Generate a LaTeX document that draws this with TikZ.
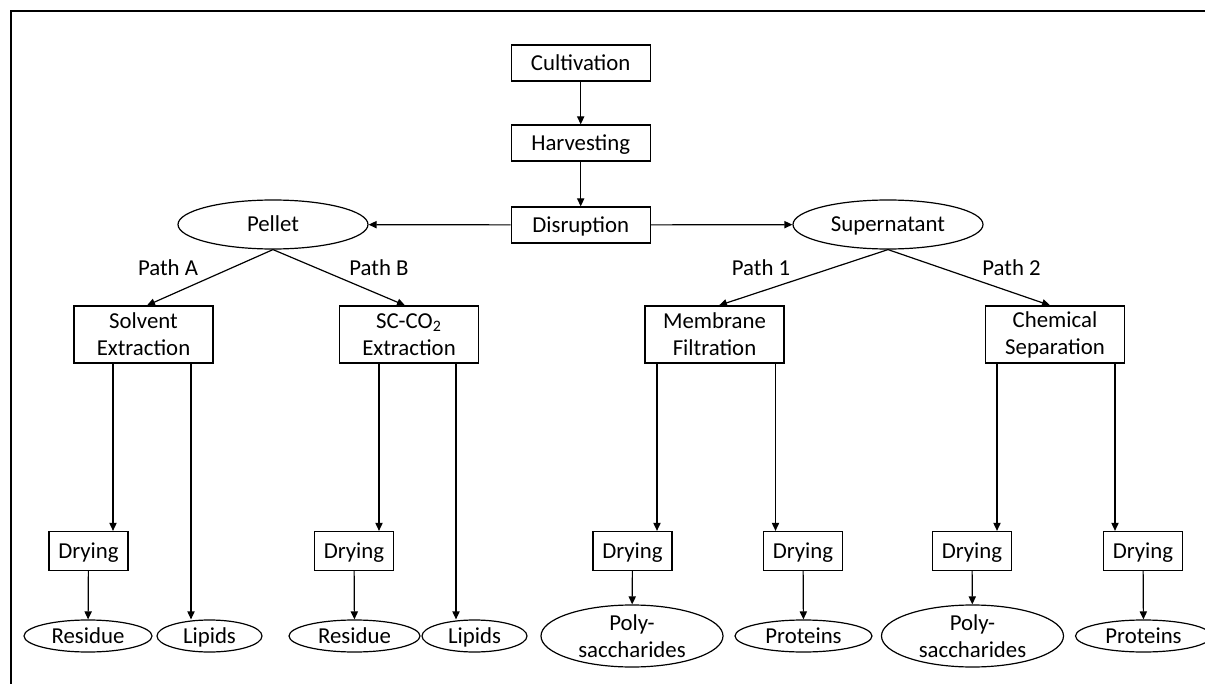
\documentclass[tikz,border=0pt]{standalone}
\usepackage{fontspec}
\setmainfont{Carlito}
\usetikzlibrary{shapes.geometric,arrows.meta}
\begin{document}
\begin{tikzpicture}[x=0.5pt,y=-0.5pt,
  font=\fontsize{11.4}{13.5}\selectfont,
  every node/.style={inner sep=0pt},
  oneline/.style={text height=9.4pt, text depth=2pt},
  box/.style={draw, line width=0.6pt, rectangle, minimum width=69.5pt, minimum height=18pt, align=center},
  tallbox/.style={box, minimum height=28.5pt},
  drybox/.style={draw, line width=0.6pt, rectangle, minimum width=39.5pt, minimum height=19.5pt, oneline},
  oval/.style={draw, line width=0.6pt, ellipse, minimum width=#1, minimum height=16pt, oneline, inner ysep=-1pt},
  bigoval/.style={draw, line width=0.6pt, ellipse, minimum width=91pt, minimum height=31pt, align=center, inner ysep=-5pt},
  arr/.style={draw, line width=0.6pt, -{Triangle[length=4pt,width=3.6pt]}}]
\useasboundingbox (0,0) rectangle (1205,684);
% frame
\draw[line width=1pt] (10.7,684) -- (10.7,11.5) -- (1210,11.5);

% main chain
\node[box, oneline] (cult) at (580.7,63) {Cultivation};
\node[box, oneline] (harv) at (580.7,143) {Harvesting};
\node[box, oneline] (disr) at (580.7,225) {Disruption};
\node[draw, line width=0.6pt, ellipse, minimum width=95pt, minimum height=24.5pt, oneline] (pellet) at (273,224.5) {Pellet};
\node[draw, line width=0.6pt, ellipse, minimum width=95pt, minimum height=24.5pt, oneline] (super) at (888,224.5) {Supernatant};

\draw[arr] (cult) -- (harv);
\draw[arr] (harv) -- (disr);
\draw[arr] (disr) -- (pellet);
\draw[arr] (disr) -- (super);

% extraction / separation steps
\node[tallbox] (solv) at (143.5,334.5) {Solvent\\Extraction};
\node[tallbox] (scco) at (409,334.5) {SC-CO\textsubscript{2}\\Extraction};
\node[tallbox] (memb) at (714.5,334.5) {Membrane\\Filtration};
\node[tallbox] (chem) at (1055,334.5) {Chemical\\Separation};

\draw[arr] (pellet.south) -- (solv.north -| 147,0);
\draw[arr] (pellet.south) -- (scco.north -| 405,0);
\draw[arr] (super.south) -- (memb.north -| 719,0);
\draw[arr] (super.south) -- (chem.north -| 1050,0);

\node[oneline] (pa) at (168,268) {Path A};
\node[oneline] (pb) at (379,268) {Path B};
\node[oneline] (p1) at (761,268) {Path 1};
\node[oneline] (p2) at (1011.5,268) {Path 2};

% drying steps
\node[drybox] (d1) at (88.5,551) {Drying};
\node[drybox] (d2) at (354,551) {Drying};
\node[drybox] (d3) at (632.5,551) {Drying};
\node[drybox] (d4) at (803,551) {Drying};
\node[drybox] (d5) at (972,551) {Drying};
\node[drybox] (d6) at (1143,551) {Drying};

% products
\node[oval=64pt] (res1) at (88,636) {Residue};
\node[oval=52.5pt] (lip1) at (209.5,636) {Lipids};
\node[oval=65.5pt] (res2) at (354.5,636) {Residue};
\node[oval=52.5pt] (lip2) at (474.5,636) {Lipids};
\node[bigoval] (poly1) at (632,636) {Poly-\\saccharides};
\node[oval=68.5pt] (prot1) at (803.5,636) {Proteins};
\node[bigoval] (poly2) at (972.5,636) {Poly-\\saccharides};
\node[oval=68pt] (prot2) at (1143.5,636) {Proteins};

% step outputs
\draw[arr] (solv.south -| 113,0) -- (d1.north -| 113,0);
\draw[arr] (solv.south -| 191,0) -- (lip1.north -| 191,0);
\draw[arr] (scco.south -| 379,0) -- (d2.north -| 379,0);
\draw[arr] (scco.south -| 456,0) -- (lip2.north -| 456,0);
\draw[arr] (memb.south -| 657,0) -- (d3.north -| 657,0);
\draw[arr] (memb.south -| 775.5,0) -- (d4.north -| 775.5,0);
\draw[arr] (chem.south -| 997,0) -- (d5.north -| 997,0);
\draw[arr] (chem.south -| 1115,0) -- (d6.north -| 1115,0);

\draw[arr] (d1) -- (res1);
\draw[arr] (d2) -- (res2);
\draw[arr] (d3) -- (poly1);
\draw[arr] (d4) -- (prot1);
\draw[arr] (d5) -- (poly2);
\draw[arr] (d6) -- (prot2);
\end{tikzpicture}
\end{document}
